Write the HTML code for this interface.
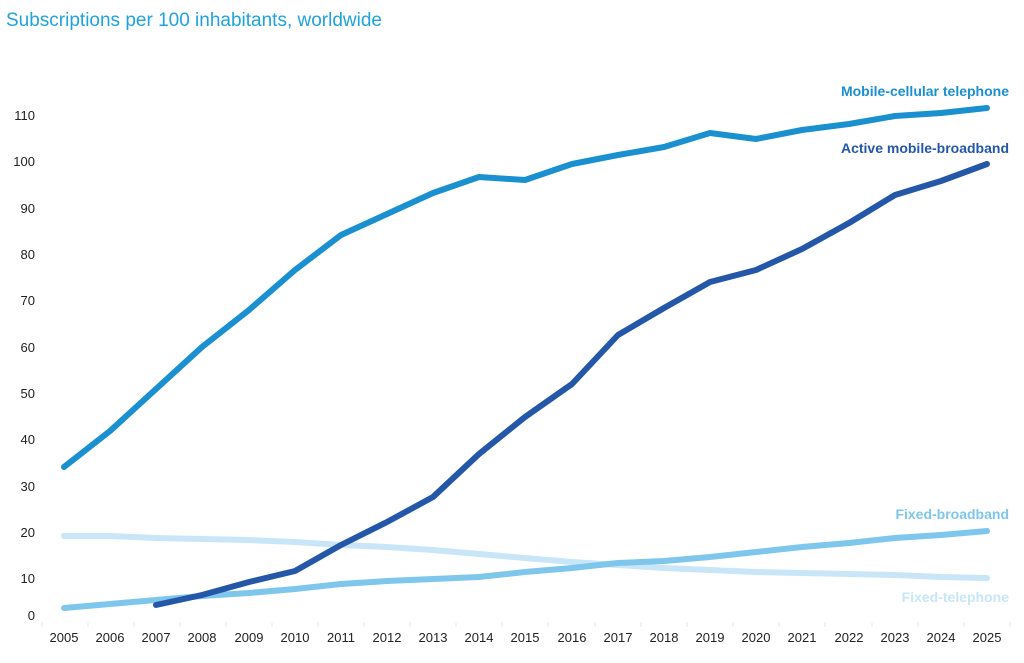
<!DOCTYPE html>
<html><head><meta charset="utf-8"><style>
body{margin:0;background:#fff;width:1024px;height:658px;overflow:hidden}
svg text{font-family:"Liberation Sans",sans-serif}
</style></head><body>
<svg width="1024" height="658" viewBox="0 0 1024 658">
<text x="6" y="26" font-size="19" fill="#1fa3dc">Subscriptions per 100 inhabitants, worldwide</text>
<g font-size="13" fill="#222" text-anchor="end">
<text x="35" y="620">0</text><text x="35" y="583">10</text><text x="35" y="537">20</text><text x="35" y="491">30</text><text x="35" y="444">40</text><text x="35" y="398">50</text><text x="35" y="352">60</text><text x="35" y="305">70</text><text x="35" y="259">80</text><text x="35" y="213">90</text><text x="35" y="166">100</text><text x="35" y="120">110</text>
</g>
<g stroke="#e6e6e6" stroke-width="1">
<line x1="42" y1="622" x2="42" y2="627"/><line x1="88" y1="622" x2="88" y2="627"/><line x1="134" y1="622" x2="134" y2="627"/><line x1="180" y1="622" x2="180" y2="627"/><line x1="226" y1="622" x2="226" y2="627"/><line x1="272" y1="622" x2="272" y2="627"/><line x1="318" y1="622" x2="318" y2="627"/><line x1="364" y1="622" x2="364" y2="627"/><line x1="410" y1="622" x2="410" y2="627"/><line x1="456" y1="622" x2="456" y2="627"/><line x1="502" y1="622" x2="502" y2="627"/><line x1="548" y1="622" x2="548" y2="627"/><line x1="595" y1="622" x2="595" y2="627"/><line x1="641" y1="622" x2="641" y2="627"/><line x1="687" y1="622" x2="687" y2="627"/><line x1="733" y1="622" x2="733" y2="627"/><line x1="779" y1="622" x2="779" y2="627"/><line x1="825" y1="622" x2="825" y2="627"/><line x1="872" y1="622" x2="872" y2="627"/><line x1="918" y1="622" x2="918" y2="627"/><line x1="964" y1="622" x2="964" y2="627"/><line x1="1010" y1="622" x2="1010" y2="627"/>
</g>
<g font-size="13" fill="#222" text-anchor="middle">
<text x="64" y="642">2005</text><text x="110" y="642">2006</text><text x="156" y="642">2007</text><text x="202" y="642">2008</text><text x="249" y="642">2009</text><text x="295" y="642">2010</text><text x="341" y="642">2011</text><text x="387" y="642">2012</text><text x="433" y="642">2013</text><text x="479" y="642">2014</text><text x="525" y="642">2015</text><text x="572" y="642">2016</text><text x="618" y="642">2017</text><text x="664" y="642">2018</text><text x="710" y="642">2019</text><text x="756" y="642">2020</text><text x="802" y="642">2021</text><text x="849" y="642">2022</text><text x="895" y="642">2023</text><text x="941" y="642">2024</text><text x="987" y="642">2025</text>
</g>
<g fill="none" stroke-width="6" stroke-linejoin="round" stroke-linecap="round">
<polyline stroke="#c8e6f7" points="64,536 110,536 156,538 202,539 249,540 295,542 341,545 387,547 433,550 479,554 525,558 572,562 618,565 664,568 710,570 756,572 802,573 849,574 895,575 941,577 987,578"/>
<polyline stroke="#7ec6ec" points="64,608 110,604 156,600 202,596 249,593 295,589 341,584 387,581 433,579 479,577 525,572 572,568 618,563 664,561 710,557 756,552 802,547 849,543 895,538 941,535 987,531"/>
<polyline stroke="#1a90d0" points="64,467 110,431 156,389 202,347 249,310 295,270 341,235 387,214 433,193 479,177 525,180 572,164 618,155 664,147 710,133 756,139 802,130 849,124 895,116 941,113 987,108"/>
<polyline stroke="#2457a8" points="156,605 202,595 249,582 295,571 341,545 387,522 433,497 479,454 525,417 572,384 618,335 664,308 710,282 756,270 802,249 849,223 895,195 941,181 987,164"/>
</g>
<g font-size="14" font-weight="bold" text-anchor="end">
<text x="1009" y="96" fill="#1a90d0">Mobile-cellular telephone</text>
<text x="1009" y="153" fill="#2457a8">Active mobile-broadband</text>
<text x="1009" y="519" fill="#7ec6ec">Fixed-broadband</text>
<text x="1009" y="602" fill="#c8e6f7">Fixed-telephone</text>
</g>
</svg>
</body></html>
